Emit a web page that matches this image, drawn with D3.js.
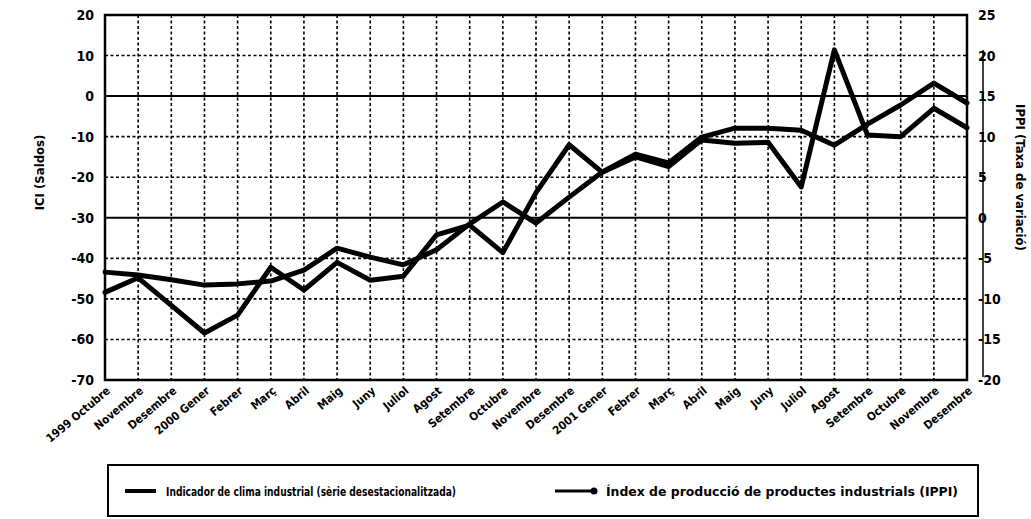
<!DOCTYPE html>
<html>
<head>
<meta charset="utf-8">
<script src="https://cdn.jsdelivr.net/npm/d3@7/dist/d3.min.js"></script>
<style>
  html, body { margin: 0; padding: 0; background: #fff; }
  svg { display: block; }
  text { font-family: "Liberation Sans Narrow", "DejaVu Sans Condensed", "Arial Narrow", sans-serif; font-weight: bold; fill: #000; }
</style>
</head>
<body>
<svg id="chart" width="1031" height="519"></svg>
<script>
// Months (Oct 1999 – Dec 2001)
const categories = [
  "1999 Octubre", "Novembre", "Desembre",
  "2000 Gener", "Febrer", "Març", "Abril", "Maig", "Juny", "Juliol", "Agost",
  "Setembre", "Octubre", "Novembre", "Desembre",
  "2001 Gener", "Febrer", "Març", "Abril", "Maig", "Juny", "Juliol", "Agost",
  "Setembre", "Octubre", "Novembre", "Desembre"
];

// Indicador de clima industrial (saldos, left axis)
const iciValues = [
  -43.4, -44.1, -45.3, -46.6, -46.3, -45.6, -42.9, -37.5, -39.7, -41.6,
  -37.9, -31.5, -26.1, -31.3, -24.9, -18.7, -14.3, -16.5, -10.1, -7.9,
  -7.9, -8.4, -12.1, -6.9, -2.2, 3.2, -1.7
];

// Índex de producció industrial (taxa de variació, right axis)
const ippiValues = [
  -9.2, -7.4, -10.8, -14.2, -12.0, -6.1, -8.9, -5.5, -7.7, -7.2,
  -2.1, -0.9, -4.3, 3.1, 9.0, 5.6, 7.5, 6.3, 9.6, 9.2,
  9.3, 3.8, 20.7, 10.2, 10.0, 13.5, 11.1
];

const leftTicks = [20, 10, 0, -10, -20, -30, -40, -50, -60, -70];
const rightTicks = [25, 20, 15, 10, 5, 0, -5, -10, -15, -20];
const solidLeftLines = [0, -30];

const legendLabels = [
  "Indicador de clima industrial (sèrie desestacionalitzada)",
  "Índex de producció de productes industrials (IPPI)"
];

const svg = d3.select("#chart");
const plot = { left: 105, right: 967, top: 15, bottom: 380 };

const x = d3.scalePoint().domain(categories.map((c, i) => i)).range([plot.left, plot.right]);
const yL = d3.scaleLinear().domain([-70, 20]).range([plot.bottom, plot.top]);
const yR = d3.scaleLinear().domain([-20, 25]).range([plot.bottom, plot.top]);
const plain = d => String(d);

// dotted grid
const grid = svg.append("g");
grid.selectAll("line.h")
  .data(leftTicks.filter(t => t !== 20 && t !== -70 && !solidLeftLines.includes(t)))
  .join("line")
  .attr("x1", plot.left).attr("x2", plot.right)
  .attr("y1", d => yL(d)).attr("y2", d => yL(d))
  .attr("stroke", "#000").attr("stroke-width", 1.6).attr("stroke-dasharray", "3,2.5");
grid.selectAll("line.v")
  .data(d3.range(1, categories.length - 1))
  .join("line")
  .attr("x1", d => x(d)).attr("x2", d => x(d))
  .attr("y1", plot.top).attr("y2", plot.bottom)
  .attr("stroke", "#000").attr("stroke-width", 1.6).attr("stroke-dasharray", "3,2.5");
grid.selectAll("line.s")
  .data(solidLeftLines)
  .join("line")
  .attr("x1", plot.left).attr("x2", plot.right)
  .attr("y1", d => yL(d)).attr("y2", d => yL(d))
  .attr("stroke", "#000").attr("stroke-width", 2);

// frame
svg.append("rect")
  .attr("x", plot.left).attr("y", plot.top)
  .attr("width", plot.right - plot.left).attr("height", plot.bottom - plot.top)
  .attr("fill", "none").attr("stroke", "#000").attr("stroke-width", 2.5);

// series lines
const lineL = d3.line().x((d, i) => x(i)).y(d => yL(d));
const lineR = d3.line().x((d, i) => x(i)).y(d => yR(d));
svg.append("path").attr("d", lineL(iciValues))
  .attr("fill", "none").attr("stroke", "#000").attr("stroke-width", 5)
  .attr("stroke-linejoin", "round").attr("stroke-linecap", "round");
svg.append("path").attr("d", lineR(ippiValues))
  .attr("fill", "none").attr("stroke", "#000").attr("stroke-width", 5)
  .attr("stroke-linejoin", "round").attr("stroke-linecap", "round");

// left axis
const axL = svg.append("g").attr("transform", `translate(${plot.left},0)`)
  .call(d3.axisLeft(yL).tickValues(leftTicks).tickFormat(plain).tickSize(0).tickPadding(11));
axL.select(".domain").remove();
axL.selectAll("text").style("font-size", "14px").attr("fill", "#000");

// right axis
const axR = svg.append("g").attr("transform", `translate(${plot.right},0)`)
  .call(d3.axisRight(yR).tickValues(rightTicks).tickFormat(plain).tickSize(0).tickPadding(11));
axR.select(".domain").remove();
axR.selectAll("text").style("font-size", "14px").attr("fill", "#000");
svg.append("line")
  .attr("x1", 983).attr("x2", 983).attr("y1", 50).attr("y2", 377)
  .attr("stroke", "#000").attr("stroke-width", 1.5);

// axis titles
svg.append("text")
  .attr("transform", `translate(44,${(plot.top + plot.bottom) / 2 - 25}) rotate(-90)`)
  .attr("text-anchor", "middle").style("font-size", "13px")
  .text("ICI (Saldos)");
svg.append("text")
  .attr("transform", `translate(1016,${(plot.top + plot.bottom) / 2 - 20}) rotate(90)`)
  .attr("text-anchor", "middle").style("font-size", "13px")
  .text("IPPI (Taxa de variació)");

// month labels
svg.append("g").selectAll("text")
  .data(categories)
  .join("text")
  .attr("transform", (d, i) => `translate(${x(i) + 6},${plot.bottom + 12}) rotate(-40)`)
  .attr("text-anchor", "end")
  .style("font-size", "11.5px")
  .text(d => d);

// legend
const lg = svg.append("g");
lg.append("rect")
  .attr("x", 108).attr("y", 465).attr("width", 870).attr("height", 51)
  .attr("fill", "none").attr("stroke", "#000").attr("stroke-width", 2);
lg.append("line")
  .attr("x1", 125).attr("x2", 156).attr("y1", 491).attr("y2", 491)
  .attr("stroke", "#000").attr("stroke-width", 4);
lg.append("text").attr("x", 166).attr("y", 496)
  .style("font-size", "13px")
  .attr("textLength", 290).attr("lengthAdjust", "spacingAndGlyphs")
  .text(legendLabels[0]);
lg.append("line")
  .attr("x1", 555).attr("x2", 594).attr("y1", 491).attr("y2", 491)
  .attr("stroke", "#000").attr("stroke-width", 3);
lg.append("circle").attr("cx", 594).attr("cy", 491).attr("r", 3.5).attr("fill", "#000");
lg.append("text").attr("x", 606).attr("y", 496)
  .style("font-size", "13px")
  .attr("textLength", 352).attr("lengthAdjust", "spacingAndGlyphs")
  .text(legendLabels[1]);
</script>
</body>
</html>
